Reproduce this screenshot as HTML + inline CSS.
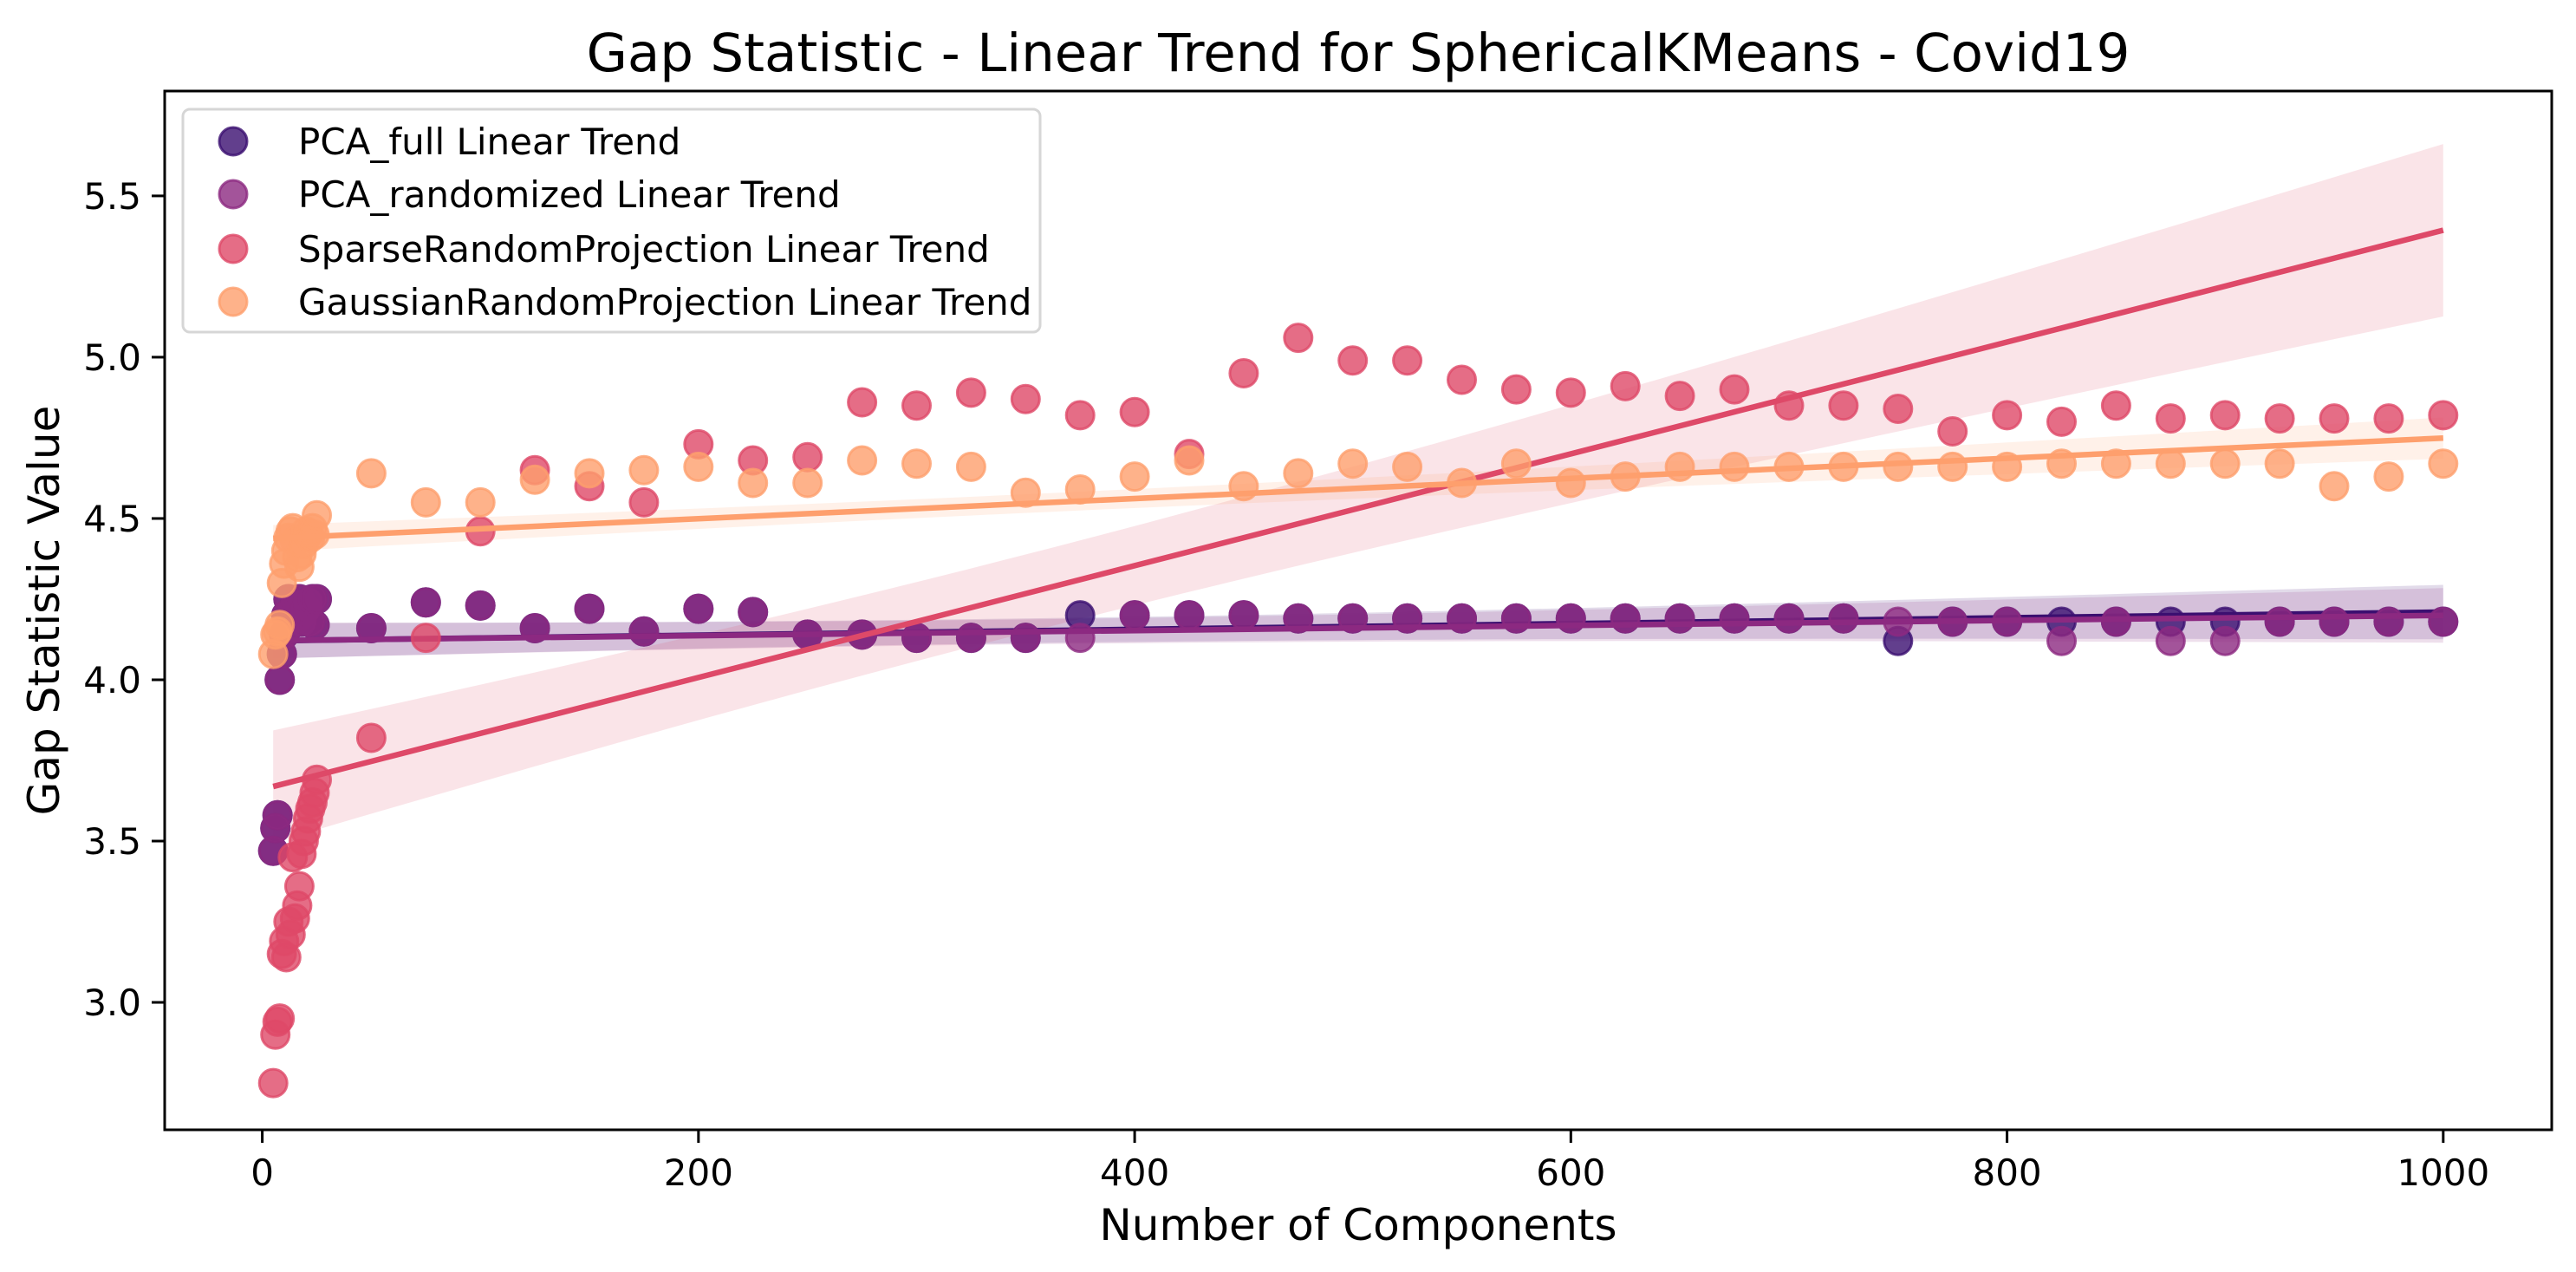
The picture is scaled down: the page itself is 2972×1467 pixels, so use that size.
<!DOCTYPE html>
<html><head><meta charset="utf-8"><style>
html,body{margin:0;padding:0;background:#fff;}
svg{display:block;font-family:"DejaVu Sans","Liberation Sans",sans-serif;}
</style></head><body>
<svg id="chart" width="2972" height="1467" viewBox="0 0 2972 1467" xmlns="http://www.w3.org/2000/svg">
<rect width="2972" height="1467" fill="#fff"/>
<g id="bands"></g><g id="marks"></g>
<rect x="190" y="105" width="2754" height="1198" fill="none" stroke="#000" stroke-width="3"/>
<g id="axes"></g>
<text x="1567" y="82" font-size="61" text-anchor="middle">Gap Statistic - Linear Trend for SphericalKMeans - Covid19</text>
<text x="1567" y="1430" font-size="50" text-anchor="middle">Number of Components</text>
<text x="0" y="0" font-size="50" text-anchor="middle" transform="translate(68,704) rotate(-90)">Gap Statistic Value</text>
<g id="legend"></g>
</svg>
<script>
const xVals=[5,6,7,8,9,10,11,12,13,14,15,16,17,18,19,20,21,22,23,24,25,50,75,100,125,150,175,200,225,250,275,300,325,350,375,400,425,450,475,500,525,550,575,600,625,650,675,700,725,750,775,800,825,850,875,900,925,950,975,1000];
const pcaFull=[3.47,3.54,3.58,4.00,4.08,4.14,4.20,4.25,4.17,4.22,4.23,4.19,4.25,4.18,4.21,4.22,4.24,4.18,4.25,4.17,4.25,4.16,4.24,4.23,4.16,4.22,4.15,4.22,4.21,4.14,4.14,4.13,4.13,4.13,4.20,4.20,4.20,4.20,4.19,4.19,4.19,4.19,4.19,4.19,4.19,4.19,4.19,4.19,4.19,4.12,4.18,4.18,4.18,4.18,4.18,4.18,4.18,4.18,4.18,4.18];
const pcaRandomized=[3.47,3.54,3.58,4.00,4.08,4.14,4.20,4.25,4.17,4.22,4.23,4.19,4.25,4.18,4.21,4.22,4.24,4.18,4.25,4.17,4.25,4.16,4.24,4.23,4.16,4.22,4.15,4.22,4.21,4.14,4.14,4.13,4.13,4.13,4.13,4.20,4.20,4.20,4.19,4.19,4.19,4.19,4.19,4.19,4.19,4.19,4.19,4.19,4.19,4.18,4.18,4.18,4.12,4.18,4.12,4.12,4.18,4.18,4.18,4.18];
const sparseRP=[2.75,2.90,2.94,2.95,3.15,3.19,3.14,3.25,3.21,3.45,3.26,3.30,3.36,3.46,3.50,3.53,3.57,3.60,3.62,3.65,3.69,3.82,4.13,4.46,4.65,4.60,4.55,4.73,4.68,4.69,4.86,4.85,4.89,4.87,4.82,4.83,4.70,4.95,5.06,4.99,4.99,4.93,4.90,4.89,4.91,4.88,4.90,4.85,4.85,4.84,4.77,4.82,4.80,4.85,4.81,4.82,4.81,4.81,4.81,4.82];
const gaussianRP=[4.08,4.14,4.15,4.17,4.30,4.36,4.40,4.44,4.46,4.47,4.43,4.38,4.35,4.39,4.42,4.46,4.45,4.44,4.47,4.45,4.51,4.64,4.55,4.55,4.62,4.64,4.65,4.66,4.61,4.61,4.68,4.67,4.66,4.58,4.59,4.63,4.68,4.60,4.64,4.67,4.66,4.61,4.67,4.61,4.63,4.66,4.66,4.66,4.66,4.66,4.66,4.66,4.67,4.67,4.67,4.67,4.67,4.60,4.63,4.67];
const seriesNames=["PCA_full Linear Trend","PCA_randomized Linear Trend","SparseRandomProjection Linear Trend","GaussianRandomProjection Linear Trend"];
const xTicks=[0,200,400,600,800,1000];
const yTicks=[3.0,3.5,4.0,4.5,5.0,5.5];

const NS="http://www.w3.org/2000/svg";
const colors=["#3b0f70","#8c2981","#de4968","#fe9f6d"];
const keys=["pca-full","pca-randomized","sparse-rp","gaussian-rp"];
const allY=[pcaFull,pcaRandomized,sparseRP,gaussianRP];
const X0=190,X1=2944,Y0=1303,Y1=105;
const xMin=-44.75,xMax=1049.75,yMin=2.605,yMax=5.825;
function sx(v){return X0+(v-xMin)/(xMax-xMin)*(X1-X0);}
function sy(v){return Y0-(v-yMin)/(yMax-yMin)*(Y0-Y1);}
function mk(tag,attrs,parent){const e=document.createElementNS(NS,tag);for(const k in attrs)e.setAttribute(k,attrs[k]);parent.appendChild(e);return e;}
const bands=document.getElementById('bands'),marks=document.getElementById('marks'),axes=document.getElementById('axes'),legend=document.getElementById('legend');

allY.forEach((ys,si)=>{
  const n=xVals.length;
  let mx=0,my=0;for(let i=0;i<n;i++){mx+=xVals[i];my+=ys[i];}mx/=n;my/=n;
  let sxx=0,sxy=0;for(let i=0;i<n;i++){sxx+=(xVals[i]-mx)**2;sxy+=(xVals[i]-mx)*(ys[i]-my);}
  const b=sxy/sxx,a=my-b*mx;
  let sse=0;for(let i=0;i<n;i++){sse+=(ys[i]-a-b*xVals[i])**2;}
  const s=Math.sqrt(sse/(n-2));
  const xa=Math.min(...xVals),xb=Math.max(...xVals);
  const up=[],lo=[];
  for(let k=0;k<=50;k++){const xv=xa+(xb-xa)*k/50;const f=a+b*xv;const se=s*Math.sqrt(1/n+(xv-mx)**2/sxx)*2.0;
    up.push(sx(xv).toFixed(1)+','+sy(f+se).toFixed(1));lo.unshift(sx(xv).toFixed(1)+','+sy(f-se).toFixed(1));}
  const band=mk('polygon',{points:up.concat(lo).join(' '),fill:colors[si],'fill-opacity':0.15,stroke:'none'},bands);
  
  
  const g=mk('g',{},marks);
  
  
  for(let i=0;i<n;i++){
    const c=mk('circle',{cx:sx(xVals[i]).toFixed(1),cy:sy(ys[i]).toFixed(1),r:16,fill:colors[si],'fill-opacity':0.8,stroke:colors[si],'stroke-opacity':0.8,'stroke-width':3},g);
    
    
  }
  const ln=mk('line',{x1:sx(xa),y1:sy(a+b*xa),x2:sx(xb),y2:sy(a+b*xb),stroke:colors[si],'stroke-width':6.5},g);
  
  
});

xTicks.forEach(t=>{
  const g=mk('g',{},axes);
  
  
  mk('line',{x1:sx(t),y1:Y0,x2:sx(t),y2:Y0+15,stroke:'#000','stroke-width':3},g);
  const tx=mk('text',{x:sx(t),y:Y0+64,'font-size':42,'text-anchor':'middle'},g);tx.textContent=String(t);
});
yTicks.forEach(t=>{
  const g=mk('g',{},axes);
  
  
  mk('line',{x1:X0-15,y1:sy(t),x2:X0,y2:sy(t),stroke:'#000','stroke-width':3},g);
  const tx=mk('text',{x:X0-27,y:sy(t)+15,'font-size':42,'text-anchor':'end'},g);tx.textContent=t.toFixed(1);
});

const lbox=mk('rect',{x:211,y:126,width:989,height:257,rx:8,fill:'#fff','fill-opacity':0.8,stroke:'#d6d6d6','stroke-width':3},legend);


const legY=[163,224,287,348];
seriesNames.forEach((nm,i)=>{
  const g=mk('g',{},legend);
  
  
  mk('circle',{cx:269,cy:legY[i],r:16,fill:colors[i],'fill-opacity':0.8,stroke:colors[i],'stroke-opacity':0.8,'stroke-width':3},g);
  const t=mk('text',{x:344,y:legY[i]+15,'font-size':42},g);t.textContent=nm;
});
</script>
</body></html>
